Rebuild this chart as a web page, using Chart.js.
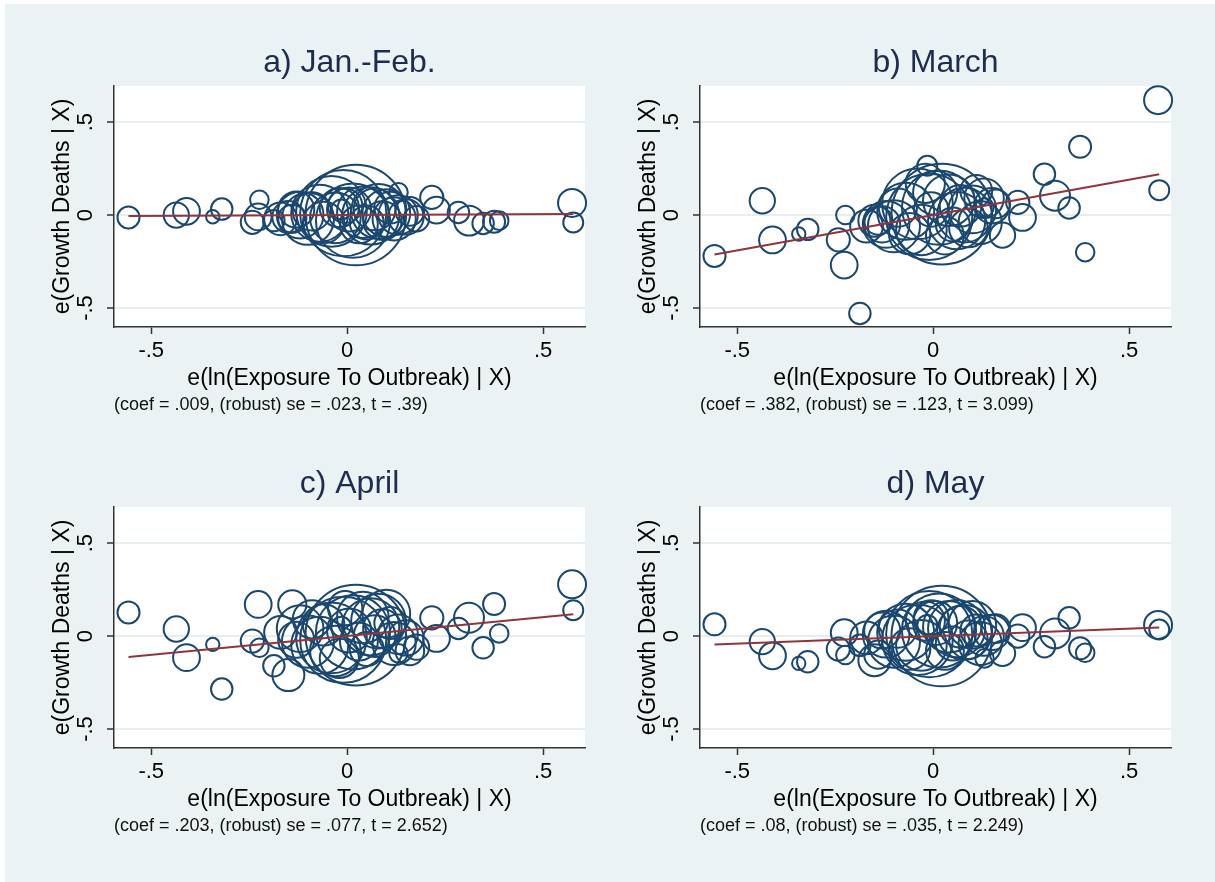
<!DOCTYPE html>
<html>
<head>
<meta charset="utf-8">
<title>Added-variable plots by month</title>
<script src="https://cdn.jsdelivr.net/npm/chart.js@4.4.0/dist/chart.umd.min.js"></script>
<style>
  html, body { margin: 0; padding: 0; background: #ffffff; }
  #frame { position: absolute; left: 5px; top: 4px; width: 1210px; height: 878px; background: #eaf2f3; }
  #frame canvas { position: absolute; }
</style>
</head>
<body>
<div id="frame">
  <canvas id="panelA" width="586" height="421" style="left:0px;top:0px"></canvas>
  <canvas id="panelB" width="586" height="421" style="left:586px;top:0px"></canvas>
  <canvas id="panelC" width="586" height="421" style="left:0px;top:421px"></canvas>
  <canvas id="panelD" width="586" height="421" style="left:586px;top:421px"></canvas>
</div>
<script>
// Panel texts
var panelTitles = ['a) Jan.-Feb.', 'b) March', 'c) April', 'd) May'];
var panelNotes = [
    '(coef = .009, (robust) se = .023, t = .39)',
    '(coef = .382, (robust) se = .123, t = 3.099)',
    '(coef = .203, (robust) se = .077, t = 2.652)',
    '(coef = .08, (robust) se = .035, t = 2.249)'
];
var xTitle = 'e(ln(Exposure To Outbreak) | X)';
var yTitle = 'e(Growth Deaths | X)';

// Tick values and their labels (same on both axes)
var tickValues = [-0.5, 0, 0.5];
var tickLabels = ['-.5', '0', '.5'];

// Residual of ln(exposure), shared by all four months
var exposureResid = [
    -0.558, -0.436, -0.410, -0.343, -0.320, -0.242, -0.227, -0.224, -0.187, -0.015,
    0.375, 0.388, 0.284, 0.311, 0.347, 0.228, 0.216, 0.177, 0.131, 0.574, 0.577,
    0.022, -0.010, 0.015, -0.040, 0.060, -0.070, 0.080, -0.100, 0.040, -0.030,
    0.100, -0.120, 0.005, 0.120, -0.150, 0.070, -0.060, 0.130, -0.020, 0.090,
    -0.090, 0.030, -0.130, 0.150, -0.005, 0.050, -0.170, 0.110, -0.140, 0.160
];

// Weights (population, millions) that set the bubble sizes
var popWeight = [
    1.9, 2.5, 2.8, 0.7, 1.8, 2.1, 2.8, 1.35, 1.8, 1.56,
    1.9, 1.35, 1.8, 3.5, 1.8, 2.8, 2.1, 2.5, 1.35, 3.06, 1.56,
    39.5, 29.0, 21.5, 19.5, 12.8, 12.7, 11.7, 10.6, 10.4, 10.0,
    8.9, 8.5, 7.6, 7.3, 4.0, 6.8, 6.7, 6.1, 6.0, 5.8,
    5.7, 5.6, 5.1, 4.9, 4.6, 4.5, 4.2, 3.96, 3.1, 3.2
];

// Residual of growth in deaths, one list per month
var deathsJanFeb = [
    -0.013, 0.000, 0.020, -0.009, 0.032, -0.039, -0.010, 0.082, -0.030, 0.030,
    -0.036, -0.030, 0.014, -0.030, -0.045, 0.027, 0.095, -0.020, 0.122, 0.065, -0.040,
    0.000, 0.010, -0.030, 0.020, -0.005, 0.010, 0.020, -0.020, 0.015, -0.015,
    0.010, 0.000, 0.030, -0.020, -0.010, 0.030, -0.040, 0.000, 0.040, -0.030,
    0.020, -0.050, 0.030, -0.010, 0.050, -0.040, -0.020, 0.040, -0.020, 0.020
];
var deathsMarch = [
    -0.220, 0.077, -0.134, -0.102, -0.077, -0.133, -0.269, 0.000, -0.529, 0.265,
    0.367, -0.200, 0.220, 0.104, 0.038, -0.013, 0.068, -0.108, 0.040, 0.618, 0.134,
    0.005, -0.010, 0.040, 0.060, -0.030, 0.020, 0.000, -0.060, 0.080, -0.080,
    0.030, -0.050, 0.120, -0.040, -0.030, 0.050, -0.100, 0.090, 0.170, -0.070,
    0.040, -0.110, -0.050, 0.050, 0.030, -0.050, -0.060, 0.130, -0.030, 0.060
];
var deathsApril = [
    0.127, 0.038, -0.116, -0.045, -0.285, -0.027, 0.170, -0.063, -0.160, 0.050,
    0.172, 0.014, 0.041, 0.098, -0.063, -0.013, 0.098, -0.060, -0.093, 0.278, 0.139,
    0.005, -0.020, 0.020, -0.010, 0.050, -0.050, 0.080, -0.030, 0.100, -0.080,
    0.120, 0.040, 0.030, -0.040, -0.210, 0.000, 0.060, 0.010, -0.120, 0.040,
    0.090, -0.030, -0.020, -0.010, 0.150, -0.070, 0.020, 0.070, 0.170, -0.080
];
var deathsMay = [
    0.063, -0.030, -0.106, -0.147, -0.138, -0.070, 0.018, -0.102, -0.050, 0.060,
    -0.066, -0.090, -0.057, 0.014, 0.098, 0.045, 0.000, -0.093, -0.120, 0.060, 0.035,
    0.000, 0.010, 0.030, -0.020, 0.040, 0.020, 0.020, -0.030, 0.050, -0.050,
    0.060, 0.010, 0.070, -0.040, -0.130, 0.050, -0.070, 0.000, 0.080, -0.020,
    0.040, -0.080, 0.030, 0.020, 0.100, -0.040, -0.010, 0.030, -0.100, 0.040
];

// Fitted line end points
var fitX = [-0.558, 0.577];
var fitJanFeb = [-0.005, 0.005];
var fitMarch = [-0.212, 0.219];
var fitApril = [-0.113, 0.117];
var fitMay = [-0.045, 0.046];

Chart.defaults.font.family = "'Liberation Sans', Arial, Helvetica, sans-serif";

// White plot region behind grid and markers
var plotRegion = {
    id: 'plotRegion',
    beforeDraw: function (chart) {
        var a = chart.chartArea;
        var ctx = chart.ctx;
        ctx.save();
        ctx.fillStyle = '#ffffff';
        ctx.fillRect(a.left, a.top, a.right - a.left, a.bottom - a.top);
        ctx.restore();
    }
};

// Map a weight to a bubble radius in pixels
function bubbleRadius(w) {
    return 8 * Math.sqrt(w);
}

// Fixed ticks at -.5, 0, .5
function setTicks(scale) {
    scale.ticks = tickValues.map(function (v) { return { value: v }; });
}

function tickText(value) {
    var i = tickValues.indexOf(value);
    return i >= 0 ? tickLabels[i] : '';
}

// Build one panel
function makePanel(canvasId, title, note, yValues, fitY) {
    var points = [];
    for (var i = 0; i < exposureResid.length; i++) {
        points.push({ x: exposureResid[i], y: yValues[i], r: bubbleRadius(popWeight[i]) });
    }
    var fitLine = [
        { x: fitX[0], y: fitY[0] },
        { x: fitX[1], y: fitY[1] }
    ];

    return new Chart(document.getElementById(canvasId), {
        type: 'bubble',
        data: {
            datasets: [
                {
                    type: 'line',
                    data: fitLine,
                    borderColor: '#90353b',
                    borderWidth: 2,
                    pointRadius: 0,
                    fill: false,
                    tension: 0,
                    order: 0,
                    clip: false
                },
                {
                    data: points,
                    borderColor: '#1a476f',
                    backgroundColor: 'rgba(0,0,0,0)',
                    borderWidth: 2,
                    order: 1,
                    clip: false
                }
            ]
        },
        plugins: [plotRegion],
        options: {
            responsive: false,
            animation: false,
            devicePixelRatio: 1,
            events: [],
            layout: { autoPadding: false, padding: { left: 0, right: 6, top: 0, bottom: 9.2 } },
            plugins: {
                legend: { display: false },
                tooltip: { enabled: false },
                title: {
                    display: true,
                    text: title,
                    fullSize: false,
                    color: '#1e2d4f',
                    font: { size: 32, weight: 'normal' },
                    padding: { top: 39.8, bottom: 3.8 }
                },
                subtitle: {
                    display: true,
                    text: note,
                    position: 'bottom',
                    fullSize: false,
                    align: 'start',
                    color: '#111111',
                    font: { size: 18, weight: 'normal' },
                    padding: { top: 2.2, bottom: 0 }
                }
            },
            scales: {
                x: {
                    type: 'linear',
                    min: -0.595,
                    max: 0.607,
                    afterFit: function (scale) { scale.height = 65; },
                    afterBuildTicks: setTicks,
                    ticks: {
                        callback: tickText,
                        color: '#000000',
                        font: { size: 22 },
                        padding: 4,
                        maxRotation: 0
                    },
                    grid: {
                        drawOnChartArea: false,
                        drawTicks: true,
                        tickLength: 7,
                        tickColor: '#333333',
                        tickWidth: 1.5
                    },
                    border: { display: true, color: '#333333', width: 1.5 },
                    title: {
                        display: true,
                        text: xTitle,
                        color: '#000000',
                        font: { size: 23 },
                        padding: { top: 0, bottom: 0 }
                    }
                },
                y: {
                    type: 'linear',
                    min: -0.602,
                    max: 0.694,
                    afterFit: function (scale) { scale.width = 109; },
                    afterBuildTicks: setTicks,
                    ticks: {
                        callback: tickText,
                        color: '#000000',
                        font: { size: 22 },
                        minRotation: 90,
                        maxRotation: 90,
                        crossAlign: 'center',
                        padding: 8
                    },
                    grid: {
                        color: '#e6eef0',
                        lineWidth: 2,
                        drawTicks: true,
                        tickLength: 7,
                        tickColor: '#333333',
                        tickWidth: 1.5
                    },
                    border: { display: true, color: '#333333', width: 1.5 },
                    title: {
                        display: true,
                        text: yTitle,
                        color: '#000000',
                        font: { size: 23 },
                        padding: { top: 44.2, bottom: 0 }
                    }
                }
            }
        }
    });
}

makePanel('panelA', panelTitles[0], panelNotes[0], deathsJanFeb, fitJanFeb);
makePanel('panelB', panelTitles[1], panelNotes[1], deathsMarch, fitMarch);
makePanel('panelC', panelTitles[2], panelNotes[2], deathsApril, fitApril);
makePanel('panelD', panelTitles[3], panelNotes[3], deathsMay, fitMay);
</script>
</body>
</html>
